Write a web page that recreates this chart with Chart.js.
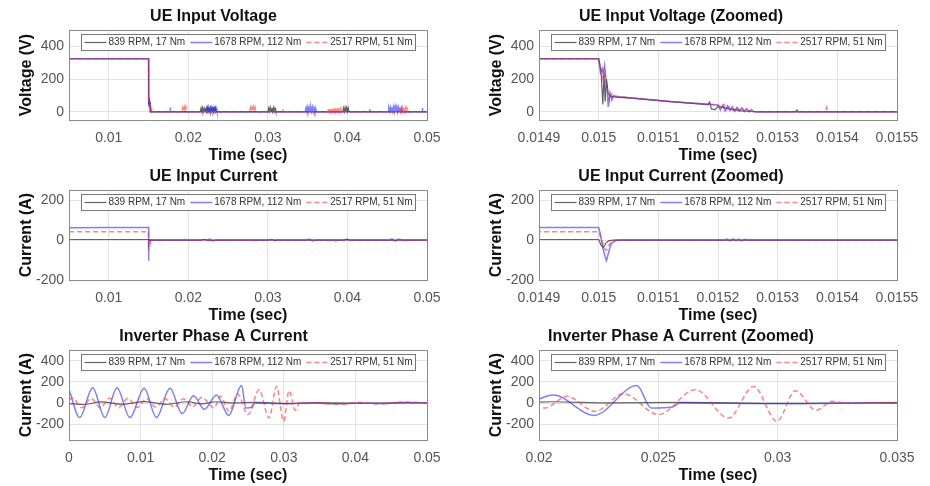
<!DOCTYPE html>
<html>
<head>
<meta charset="utf-8">
<script src="https://cdn.jsdelivr.net/npm/chart.js@4.4.0/dist/chart.umd.min.js"></script>
<style>
body { margin: 0; background: #fff; }
#wrap { position: relative; width: 930px; height: 486px; overflow: hidden; }
canvas { position: absolute; }
</style>
</head>
<body>
<div id="wrap">
<canvas id="volt" width="465" height="166" style="left:0;top:0"></canvas>
<canvas id="volt_zoom" width="465" height="166" style="left:465px;top:0"></canvas>
<canvas id="curr" width="465" height="166" style="left:0;top:160px"></canvas>
<canvas id="curr_zoom" width="465" height="166" style="left:465px;top:160px"></canvas>
<canvas id="phase" width="465" height="166" style="left:0;top:320px"></canvas>
<canvas id="phase_zoom" width="465" height="166" style="left:465px;top:320px"></canvas>
</div>
<script>
Chart.defaults.font.family = '"Liberation Sans", Arial, sans-serif';
Chart.defaults.color = '#555';

const seriesNames = ['839 RPM, 17 Nm', '1678 RPM, 112 Nm', '2517 RPM, 51 Nm'];

// tick labels
const xTicksWide = [0.01, 0.02, 0.03, 0.04, 0.05];
const xTicksZoom = [0.0149, 0.015, 0.0151, 0.0152, 0.0153, 0.0154, 0.0155];
const xTicksPhase = [0, 0.01, 0.02, 0.03, 0.04, 0.05];
const xTicksPhaseZoom = [0.02, 0.025, 0.03, 0.035];
const yTicksVolt = [0, 200, 400];
const yTicksCurr = [-200, 0, 200];
const yTicksPhase = [-200, 0, 200, 400];

// UE input voltage [time s, volts]
const voltBlack = [[0.005,325],[0.015,325],[0.015004,250],[0.015007,45],[0.015009,232],[0.015011,62],[0.015013,200],[0.015016,110],[0.015019,96],[0.015025,92],[0.01506,82],[0.01512,62],[0.015183,44],[0.015186,60],[0.015189,18],[0.015195,14],[0.0152,34],[0.015212,24],[0.015225,14],[0.01524,6],[0.015255,2],[0.01527,0],[0.01533,0],[0.015332,12],[0.015335,0],
  [0.0215,0],[0.0216,24],[0.0217,2],[0.0218,26],[0.0219,1],[0.022,22],[0.0221,3],[0.0222,25],[0.0223,0],[0.0224,27],[0.0225,2],[0.0226,23],[0.0227,1],[0.0228,26],[0.0229,3],[0.023,24],[0.0231,0],[0.0232,22],[0.0233,2],[0.0234,25],[0.0235,1],[0.0236,0],
  [0.03,0],[0.0301,24],[0.0302,2],[0.0303,27],[0.0304,3],[0.0305,25],[0.0306,1],[0.0307,26],[0.0308,2],[0.0309,22],[0.031,0],
  [0.0394,0],[0.0395,24],[0.0396,2],[0.0397,27],[0.0398,1],[0.0399,25],[0.04,3],[0.0401,26],[0.0402,2],[0.0403,0],
  [0.0428,0],[0.04282,14],[0.04285,0],[0.05,0]];
const voltBlue = [[0.005,325],[0.015,325],[0.015003,240],[0.015006,265],[0.015008,225],[0.01501,282],[0.015012,210],[0.015014,160],[0.015016,30],[0.015019,115],[0.015022,72],[0.015025,100],[0.01503,93],[0.01506,83],[0.01512,63],[0.0152,42],[0.015204,12],[0.015208,40],[0.015212,6],[0.015216,36],[0.01522,10],[0.015224,32],[0.015228,4],[0.015232,28],[0.015236,8],[0.01524,24],[0.015244,2],[0.015248,20],[0.015252,0],[0.015256,14],[0.01526,0],
  [0.0177,0],[0.01772,26],[0.01775,0],
  [0.0222,0],[0.0223,24],[0.0224,3],[0.0225,28],[0.0226,1],[0.0227,26],[0.0228,2],[0.0229,25],[0.023,3],[0.0231,27],[0.0232,1],[0.0233,24],[0.0234,2],[0.0235,22],[0.0236,0],
  [0.0347,0],[0.0348,24],[0.0349,2],[0.035,28],[0.0351,1],[0.0352,26],[0.0353,3],[0.0354,25],[0.0355,2],[0.0356,27],[0.0357,1],[0.0358,24],[0.0359,3],[0.036,22],[0.0361,0],
  [0.0451,0],[0.0452,22],[0.0453,2],[0.0454,26],[0.0455,1],[0.0456,28],[0.0457,3],[0.0458,30],[0.0459,2],[0.046,32],[0.0461,4],[0.0462,29],[0.0463,1],[0.0464,27],[0.0465,3],[0.0466,26],[0.0467,2],[0.0468,24],[0.0469,1],[0.047,0],
  [0.0494,0],[0.04942,24],[0.04945,0],[0.05,0]];
const voltRed = [[0.005,325],[0.015,325],[0.015003,272],[0.015006,205],[0.015009,262],[0.015012,185],[0.015015,125],[0.015018,70],[0.015021,112],[0.015025,88],[0.01503,95],[0.01506,84],[0.01512,63],[0.0152,42],[0.015205,18],[0.01521,45],[0.015215,15],[0.01522,38],[0.015225,10],[0.01523,30],[0.015235,5],[0.01524,22],[0.015245,2],[0.01525,10],[0.015258,0],[0.01538,0],[0.015382,28],[0.015385,0],
  [0.0192,0],[0.0193,24],[0.0194,2],[0.0195,27],[0.0196,1],[0.0197,28],[0.0198,0],
  [0.0277,0],[0.0278,24],[0.0279,2],[0.028,26],[0.0281,3],[0.0282,28],[0.0283,1],[0.0284,25],[0.0285,2],[0.0286,0],
  [0.0319,0],[0.03192,16],[0.03195,0],
  [0.0375,0],[0.0376,22],[0.0377,2],[0.0378,25],[0.0379,1],[0.038,26],[0.0381,3],[0.0382,24],[0.0383,2],[0.0384,27],[0.0385,1],[0.0386,25],[0.0387,3],[0.0388,26],[0.0389,2],[0.039,24],[0.0391,1],[0.0392,22],[0.0393,2],[0.0394,0],
  [0.0466,0],[0.0467,22],[0.0468,2],[0.0469,25],[0.047,1],[0.0471,26],[0.0472,3],[0.0473,24],[0.0474,2],[0.0475,22],[0.0476,0],[0.05,0]];

// UE input current [time s, amps]
const currBlack = [[0.005,3],[0.015,3],[0.015004,-25],[0.015008,-37],[0.015012,-15],[0.015017,-3],[0.015025,0],[0.0216,0],[0.022,4],[0.0225,-3],[0.023,0],[0.0301,0],[0.0305,4],[0.0309,-3],[0.031,0],[0.0395,0],[0.0399,5],[0.0403,0],[0.05,0]];
const currBlue = [[0.005,62],[0.01,63],[0.015,63],[0.015003,30],[0.015007,-40],[0.015011,-85],[0.015013,-103],[0.015016,-70],[0.01502,-25],[0.015025,-8],[0.01503,-2],[0.015035,0],[0.01521,0],[0.015215,5],[0.01522,-4],[0.015225,6],[0.01523,-3],[0.015235,5],[0.01524,-4],[0.015245,4],[0.01525,0],[0.0223,0],[0.0227,5],[0.0231,-4],[0.0235,0],[0.0348,0],[0.0352,5],[0.0356,-4],[0.036,0],[0.0452,0],[0.0456,6],[0.046,-5],[0.0464,5],[0.0469,0],[0.05,0]];
const currRed = [[0.005,42],[0.015,42],[0.015004,10],[0.015008,-30],[0.015012,-52],[0.015015,-45],[0.015018,-20],[0.015022,-5],[0.01503,0],[0.01533,0],[0.015332,4],[0.015335,0],[0.0193,0],[0.0196,4],[0.0198,0],[0.0278,0],[0.0281,5],[0.0284,-4],[0.0286,0],[0.0376,0],[0.038,4],[0.0385,-4],[0.039,0],[0.0467,0],[0.047,5],[0.0473,-4],[0.0476,0],[0.05,0]];

// Inverter phase A current [time s, amps]
const phaseBlack = [[0,-5],[0.002,-14],[0.0045,10],[0.0075,-12],[0.0105,14],[0.0135,-12],[0.0165,12],[0.0185,-8],[0.0205,12],[0.023,2],[0.026,6],[0.03,-3],[0.035,3],[0.04,-2],[0.045,2],[0.05,0]];
const phaseBlue = [[0,129],[0.0015,-138],[0.0033,145],[0.005,-138],[0.0067,145],[0.0085,-138],[0.0105,140],[0.0122,-138],[0.0141,140],[0.0158,-100],[0.0174,68],[0.0189,-60],[0.0206,77],[0.0223,-117],[0.0241,165],[0.0247,-47],[0.0256,-38],[0.0259,0],[0.028,-3],[0.031,-6],[0.034,0],[0.037,-8],[0.041,0],[0.044,-5],[0.047,5],[0.05,0]];
const phaseRed = [[0,30],[0.0005,48],[0.00179,-45],[0.00308,44],[0.00437,-45],[0.00566,45],[0.00695,-44],[0.00824,45],[0.00953,-42],[0.01082,44],[0.01211,-40],[0.0134,42],[0.01469,-38],[0.01598,40],[0.01727,-36],[0.01856,55],[0.02025,-47],[0.02116,63],[0.02235,-79],[0.02354,88],[0.02501,-110],[0.02655,126],[0.02794,-142],[0.02899,157],[0.02997,-173],[0.03074,116],[0.03161,-69],[0.03228,16],[0.033,-4],[0.0345,6],[0.0365,-6],[0.038,-12],[0.0405,8],[0.043,-10],[0.0465,10],[0.05,0]];

const lineStyles = [
    {borderColor: 'rgba(60,60,60,0.8)', borderWidth: 1.2, borderDash: [], order: 2},
    {borderColor: 'rgba(40,40,255,0.6)', borderWidth: 1.5, borderDash: [], order: 1},
    {borderColor: 'rgba(255,50,50,0.6)', borderWidth: 1.5, borderDash: [5, 3], order: 0},
];

// axes box and MATLAB-like legend inside the top of the axes
const frameAndLegend = {
    id: 'frameAndLegend',
    afterDatasetsDraw(chart) {
        const {ctx, chartArea: a} = chart;
        ctx.save();
        ctx.strokeStyle = '#8a8a8a';
        ctx.lineWidth = 1;
        ctx.strokeRect(Math.round(a.left) + 0.5, Math.round(a.top) + 0.5, Math.round(a.width), Math.round(a.height));

        ctx.font = '10px "Liberation Sans", Arial, sans-serif';
        const sets = chart.data.datasets;
        const widths = sets.map(d => ctx.measureText(d.label).width);
        const boxW = Math.round(widths.reduce((s, w) => s + w, 0) + sets.length * 24 + (sets.length - 1) * 5 + 6);
        const bx = Math.round((a.left + a.right) / 2 - boxW / 2) + 0.5;
        const by = Math.round(a.top) + 4.5;
        ctx.fillStyle = '#fff';
        ctx.fillRect(bx, by, boxW, 16);
        ctx.strokeStyle = '#777';
        ctx.strokeRect(bx, by, boxW, 16);
        let x = bx + 3;
        const y = by + 8;
        sets.forEach((d, i) => {
            ctx.strokeStyle = d.borderColor;
            ctx.lineWidth = d.borderWidth;
            ctx.setLineDash(d.borderDash);
            ctx.beginPath();
            ctx.moveTo(x, y);
            ctx.lineTo(x + 22, y);
            ctx.stroke();
            ctx.setLineDash([]);
            ctx.fillStyle = '#333';
            ctx.textBaseline = 'middle';
            ctx.fillText(d.label, x + 24, y);
            x += 24 + widths[i] + 5;
        });
        ctx.restore();
    }
};

function panel(id, title, yTitle, xMin, xMax, xTicks, yMin, yMax, yTicks, series, smooth, rightCol) {
    const ctx = document.getElementById(id).getContext('2d');
    new Chart(ctx, {
        type: 'line',
        data: {
            datasets: series.map((s, i) => Object.assign({
                label: seriesNames[i],
                data: s.map(p => ({x: p[0], y: p[1]})),
                pointRadius: 0,
                fill: false,
                clip: 0,
                tension: 0,
                cubicInterpolationMode: smooth ? 'monotone' : 'default',
                capBezierPoints: false,
            }, lineStyles[i]))
        },
        plugins: [frameAndLegend],
        options: {
            responsive: false,
            animation: false,
            events: [],
            devicePixelRatio: 1,
            layout: {padding: {left: 0, top: 0, bottom: 0, right: rightCol ? 33 : 38}},
            plugins: {
                legend: {display: false},
                tooltip: {enabled: false},
                title: {
                    display: true,
                    text: title,
                    color: '#111',
                    font: {size: 16, weight: 'bold'},
                    padding: {top: 7, bottom: 4},
                },
            },
            scales: {
                x: {
                    type: 'linear',
                    min: xMin,
                    max: xMax,
                    afterBuildTicks: (axis) => { axis.ticks = xTicks.map(v => ({value: v})); },
                    afterFit: (axis) => { axis.height = 46; },
                    grid: {color: '#e3e3e3', drawTicks: false},
                    border: {display: false},
                    ticks: {autoSkip: false, maxRotation: 0, padding: 10, color: '#555', font: {size: 14},
                        callback: (v) => String(v)},
                    title: {display: true, text: 'Time (sec)', color: '#111',
                        font: {size: 16, weight: 'bold'}, padding: {top: 0, bottom: 1}},
                },
                y: {
                    type: 'linear',
                    min: yMin,
                    max: yMax,
                    afterBuildTicks: (axis) => { axis.ticks = yTicks.map(v => ({value: v})); },
                    afterFit: (axis) => { axis.width = rightCol ? 74 : 69; },
                    grid: {color: '#e3e3e3', drawTicks: false},
                    border: {display: false},
                    ticks: {padding: 5, color: '#555', font: {size: 14}, callback: (v) => String(v)},
                    title: {display: true, text: yTitle, color: '#111',
                        font: {size: 16, weight: 'bold'}, padding: {top: rightCol ? 22 : 17, bottom: 0}},
                },
            },
        },
    });
}

panel('volt', 'UE Input Voltage', 'Voltage (V)', 0.005, 0.05, xTicksWide, -50, 500, yTicksVolt,
    [voltBlack, voltBlue, voltRed], false, false);
panel('volt_zoom', 'UE Input Voltage (Zoomed)', 'Voltage (V)', 0.0149, 0.0155, xTicksZoom, -50, 500, yTicksVolt,
    [voltBlack, voltBlue, voltRed], false, true);
panel('curr', 'UE Input Current', 'Current (A)', 0.005, 0.05, xTicksWide, -200, 250, yTicksCurr,
    [currBlack, currBlue, currRed], false, false);
panel('curr_zoom', 'UE Input Current (Zoomed)', 'Current (A)', 0.0149, 0.0155, xTicksZoom, -200, 250, yTicksCurr,
    [currBlack, currBlue, currRed], false, true);
panel('phase', 'Inverter Phase A Current', 'Current (A)', 0, 0.05, xTicksPhase, -350, 500, yTicksPhase,
    [phaseBlack, phaseBlue, phaseRed], true, false);
panel('phase_zoom', 'Inverter Phase A Current (Zoomed)', 'Current (A)', 0.02, 0.035, xTicksPhaseZoom, -350, 500, yTicksPhase,
    [phaseBlack, phaseBlue, phaseRed], true, true);
</script>
</body>
</html>
